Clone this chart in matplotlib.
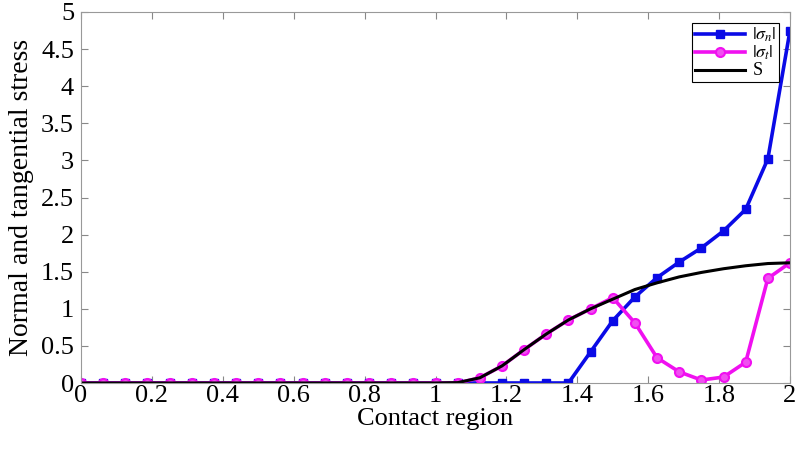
import numpy as np
from matplotlib import pyplot as plt

plt.rcParams['font.family'] = ['Liberation Serif', 'DejaVu Serif']
plt.rcParams['mathtext.fontset'] = 'stix'

# Données (pas de 1/16 sur [0, 2])
x = np.arange(33) / 16.0

sigma_n = [0] * 23 + [0.42, 0.84, 1.16, 1.42, 1.63, 1.82, 2.05, 2.34, 3.02, 4.75]

sigma_t = [0] * 18 + [0.07, 0.23, 0.45, 0.66, 0.85, 1.0, 1.15, 0.81, 0.34, 0.15,
                      0.04, 0.08, 0.28, 1.41, 1.62]

s = [0] * 17 + [0.005, 0.07, 0.23, 0.45, 0.66, 0.85, 1.0, 1.13, 1.26, 1.35, 1.43,
                1.49, 1.54, 1.58, 1.61, 1.62]

fig = plt.figure(figsize=(7.97, 4.49), dpi=100)
ax = fig.add_axes([81 / 797, 1 - 383 / 449, 709 / 797, 371 / 449])

ax.plot(x, sigma_n, '-s', color='#0a0ae6', lw=2.6, ms=5.5, label=r'$|\sigma_n|$')
ax.plot(x, sigma_t, '-o', color='#f010f0', mfc='#f050f0', mec='#f010f0',
        lw=2.6, ms=6.5, mew=1.5, label=r'$|\sigma_t|$')
ax.plot(x, s, '-', color='black', lw=2.2, label='S')

ax.set_xlim(0, 2)
ax.set_ylim(0, 5)
ax.set_xticks(np.arange(0, 2.01, 0.2))
ax.set_xticklabels(['0', '0.2', '0.4', '0.6', '0.8', '1', '1.2', '1.4', '1.6', '1.8', '2'])
ax.set_yticks(np.arange(0, 5.01, 0.5))
ax.set_yticklabels(['0', '0.5', '1', '1.5', '2', '2.5', '3', '3.5', '4', '4.5', '5'])
ax.tick_params(direction='in', top=True, right=True, labelsize=19, color='#888888',
               length=5)
ax.tick_params(axis='x', pad=1.5)
ax.tick_params(axis='y', pad=5)
for sp in ax.spines.values():
    sp.set_color('#999999')

ax.set_xlabel('Contact region', fontsize=19, labelpad=1)
ax.set_ylabel('Normal and tangential stress', fontsize=20, labelpad=5)

leg = ax.legend(loc='upper right', fontsize=13, fancybox=False, edgecolor='black',
                framealpha=1, borderpad=0.15, labelspacing=0.0, handlelength=2.8,
                handleheight=0.5, handletextpad=0.4, borderaxespad=0.6)
leg.get_frame().set_linewidth(0.8)

plt.savefig('out.png', dpi=100)
